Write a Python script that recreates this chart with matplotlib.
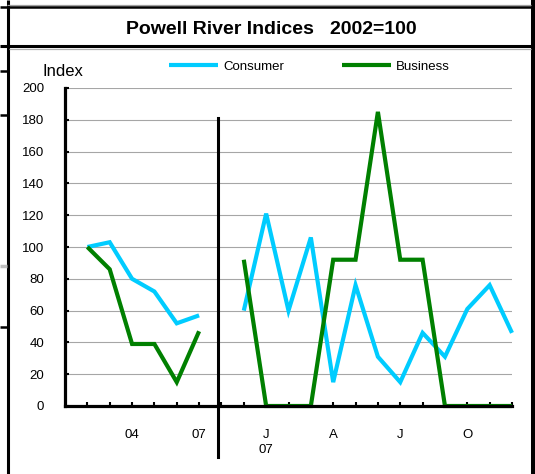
import numpy as np
import matplotlib.pyplot as plt
from matplotlib.lines import Line2D

plt.rcParams['font.family'] = ['Liberation Sans', 'DejaVu Sans']

# ---- data (annual 2002-2007, gap, then monthly Dec 06 - Dec 07) ----
tick_labels = ["", "", "04", "", "", "07", "",
               "", "J\n07", "", "", "A", "", "", "J", "", "", "O", "", ""]
consumer = [100, 103, 80, 72, 52, 57, np.nan,
            60, 121, 60, 106, 15, 76, 31, 15, 46, 31, 61, 76, 46]
business = [100, 86, 39, 39, 15, 47, np.nan,
            92, 0, 0, 0, 92, 92, 185, 92, 92, 0, 0, 0, 0]
series_names = ["Consumer", "Business"]
series_colors = ["#00ccff", "#008000"]

W, H = 535, 474
fig = plt.figure(figsize=(W / 100, H / 100), dpi=100)
ax = fig.add_axes([65 / W, 1 - 406 / H, (512 - 65) / W, (406 - 88) / H])

x = np.arange(1, len(consumer) + 1)
for vals, name, col in zip([consumer, business], series_names, series_colors):
    ax.plot(x, vals, color=col, lw=3.0, label=name, clip_on=False,
            solid_joinstyle="miter", solid_capstyle="butt")

ax.set_xlim(0, 20)
ax.set_ylim(0, 200)
ax.set_yticks(np.arange(0, 201, 20))
ax.set_xticks(x)
ax.set_xticklabels(tick_labels, linespacing=1.3)
ax.yaxis.grid(True, color="#a6a6a6", lw=0.8)
ax.set_axisbelow(True)

for s in ["top", "right"]:
    ax.spines[s].set_visible(False)
for s in ["left", "bottom"]:
    ax.spines[s].set_linewidth(2.3)
ax.tick_params(axis="both", direction="in", length=3, width=1.5,
               labelsize=9.5, colors="black")
ax.tick_params(axis="y", pad=15)
ax.tick_params(axis="x", pad=16.5)

# divider between annual and monthly parts
ax.axvline(6.85, ymin=-0.16, ymax=0.906, color="black", lw=2.2, clip_on=False)

fig.text(271 / W, 1 - 29.5 / H, "Powell River Indices   2002=100",
         ha="center", va="center", fontsize=14, fontweight="bold")
fig.text(43 / W, 1 - 72 / H, "Index", ha="left", va="center", fontsize=12)

fig.legend(loc="center left", bbox_to_anchor=(169 / W, 1 - 66.5 / H),
           ncol=2, frameon=False, fontsize=9.5, handlelength=3.7,
           handletextpad=0.4, columnspacing=4.4, borderpad=0,
           borderaxespad=0)


# spreadsheet cell borders around the chart
def frame_line(x0, y0, x1, y1, color="black", lw=2.0):
    fig.add_artist(Line2D([x0 / W, x1 / W], [1 - y0 / H, 1 - y1 / H],
                          transform=fig.transFigure, color=color, lw=lw,
                          solid_capstyle="butt"))


frame_line(7.5, 0, 7.5, H, lw=2.2)
frame_line(533, 0, 533, H, lw=2.9)
frame_line(7, 5, 531, 5, color="#a0a0a0", lw=0.9)
frame_line(0, 7.2, 531, 7.2, lw=1.8)
frame_line(0, 45.8, 531, 45.8, lw=2.2)
frame_line(9, 48.5, 531, 48.5, color="#b0b0b0", lw=0.9)
for yy in [71, 115, 327]:
    frame_line(0, yy, 7, yy, lw=1.8)
frame_line(0, 266, 7, 266, color="#c0c0c0", lw=2.5)

fig.savefig("out.png", dpi=100)
